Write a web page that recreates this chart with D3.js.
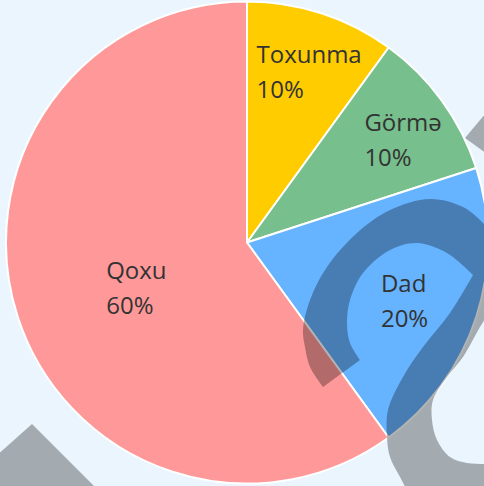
<!DOCTYPE html>
<html>
<head>
<meta charset="utf-8">
<script src="https://cdn.jsdelivr.net/npm/d3@7"></script>
<style>
  html, body { margin: 0; padding: 0; background: #eaf5fd; overflow: hidden; }
  svg { display: block; }
</style>
</head>
<body>
<svg id="chart" width="484" height="486"></svg>
<script>
// Senses and their shares (percent)
const categories = ["Toxunma", "Görmə", "Dad", "Qoxu"];
const shares = [10, 10, 20, 60];
const shareLabels = ["10%", "10%", "20%", "60%"];
const colors = ["#ffcc00", "#77bf8c", "#66b3ff", "#ff9999"];

const W = 484, H = 486;
const cx = 247, cy = 242.5, radius = 241;

const svg = d3.select("#chart");
svg.append("rect").attr("width", W).attr("height", H).attr("fill", "#eaf5fd");

const data = categories.map((c, i) => ({ name: c, value: shares[i], label: shareLabels[i], color: colors[i] }));
const total = d3.sum(shares);

const pie = d3.pie().sort(null).value(d => d.value).startAngle(0).endAngle(2 * Math.PI);
const arc = d3.arc().innerRadius(0).outerRadius(radius);
const arcs = pie(data);

const g = svg.append("g").attr("transform", `translate(${cx},${cy})`);

g.selectAll("path.slice")
  .data(arcs)
  .enter().append("path")
  .attr("class", "slice")
  .attr("d", arc)
  .attr("fill", d => d.data.color)
  .attr("stroke", "#ffffff")
  .attr("stroke-width", 2)
  .attr("stroke-linejoin", "round");

// Labels: name over percentage, left-aligned; narrow slices push the label outward
const fontSize = 24, lineGap = 35, capH = fontSize * 0.72, shiftX = 4, drop = 8;
const labels = g.selectAll("g.lbl")
  .data(arcs)
  .enter().append("g")
  .attr("class", "lbl");

labels.each(function(d) {
  const sel = d3.select(this);
  const f = d.data.value / total;
  const k = 0.917 - 1.505 * f + 1.35 * f * f;
  const r = radius * k;
  const c = d3.arc().innerRadius(r).outerRadius(r).centroid(d);
  const lines = [d.data.name, d.data.label];
  const texts = lines.map(t => sel.append("text")
    .attr("font-family", "'Open Sans', 'Noto Sans', sans-serif")
    .attr("font-size", fontSize)
    .attr("fill", "#333333")
    .text(t));
  const maxW = d3.max(texts, t => t.node().getComputedTextLength());
  const blockTop = c[1] + drop - (lineGap + capH) / 2;
  texts.forEach((t, i) => {
    t.attr("x", c[0] + shiftX - maxW / 2)
     .attr("y", blockTop + capH + i * lineGap);
  });
});

// Translucent ornament strokes drawn over the chart
const smooth = d3.line().curve(d3.curveCatmullRom.alpha(0.5));
function joinRuns(runs) {
  let p = "";
  runs.forEach((run, i) => {
    let s = run.length > 2 ? smooth(run) : "M" + run.map(q => q.join(",")).join("L");
    if (i > 0) s = "L" + s.slice(1);
    p += s;
  });
  return p + "Z";
}

const hook = joinRuns([
  [[360,360],[350,343],[347,323],[350,300],[363,273],[390,250],[417,243],[447,253],[473,275]],
  [[473,275],[450,313],[423,347],[403,377],[388,410],[387,437],[390,457],[400,477],[408,492]],
  [[408,492],[492,492],[492,464]],
  [[492,464],[484,464],[467,463],[450,457],[437,440],[432,420],[433,400],[447,377],[463,357],[480,327],[492,308]],
  [[492,308],[492,235]],
  [[492,235],[483,223],[463,207],[430,199],[390,210],[357,233],[327,267],[310,300],[303,330],[305,347],[310,367],[323,387]]
]);

const ornament = svg.append("g").attr("fill", "#000000").attr("fill-opacity", 0.3);
ornament.append("path").attr("d", hook);
ornament.append("path").attr("d", "M490,108L465,138L490,156Z");
ornament.append("path").attr("d", "M-5,457L32,424L100,492L-5,492Z");
</script>
</body>
</html>
